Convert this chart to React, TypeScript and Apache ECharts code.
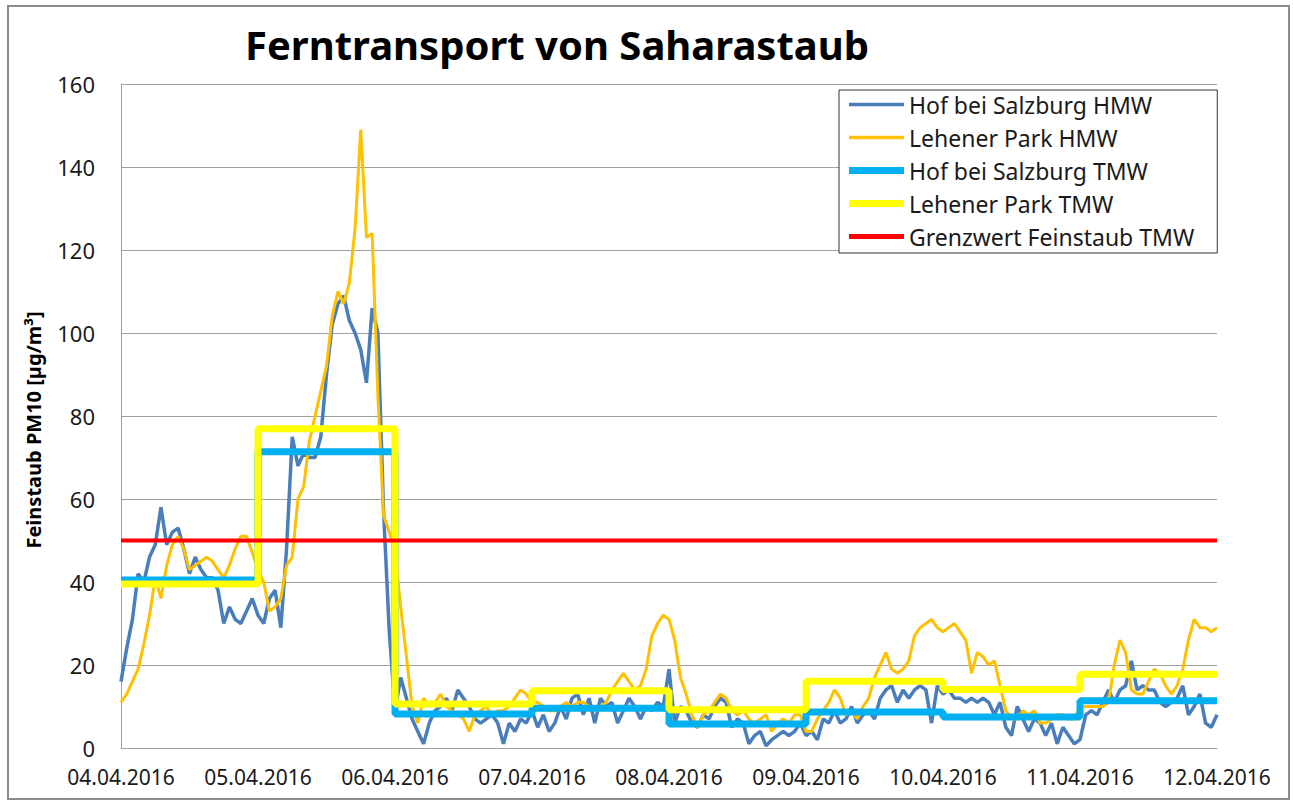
import React, { useEffect, useRef } from "react";
import * as echarts from "echarts";

// x-axis tick labels (one per day)
const dateLabels = [
  "04.04.2016", "05.04.2016", "06.04.2016", "07.04.2016", "08.04.2016",
  "09.04.2016", "10.04.2016", "11.04.2016", "12.04.2016",
];

// Hof bei Salzburg HMW, hourly values (24 per day)
const hofDay1 = [16, 24, 31, 42, 40, 46, 49, 58, 49, 52, 53, 48, 42, 46, 43, 41, 41, 38, 30, 34, 31, 30, 33, 36];
const hofDay2 = [32, 30, 36, 38, 29, 48, 75, 68, 71, 70, 70, 75, 90, 102, 107, 109, 103, 100, 96, 88, 106, 100, 57, 28];
const hofDay3 = [9, 17, 12, 7, 4, 1, 6, 9, 10, 12, 9, 14, 12, 10, 7, 6, 7, 8, 6, 1, 6, 4, 7, 6];
const hofDay4 = [9, 5, 8, 4, 6, 10, 7, 12, 13, 8, 12, 6, 12, 10, 11, 6, 9, 12, 10, 7, 10, 9, 11, 10];
const hofDay5 = [19, 6, 10, 9, 6, 5, 8, 7, 10, 12, 11, 5, 7, 6, 1, 3, 4, 0.5, 2, 3, 4, 3, 4, 6];
const hofDay6 = [3, 4, 2, 7, 6, 9, 6, 7, 10, 6, 8, 9, 7, 12, 14, 15, 11, 14, 12, 14, 15, 14, 6, 15];
const hofDay7 = [13, 14, 12, 12, 11, 12, 11, 12, 11, 8, 11, 5, 3, 10, 7, 4, 7, 6, 3, 6, 1, 5, 3, 1];
const hofDay8 = [2, 8, 9, 8, 11, 14, 11, 14, 15, 21, 14, 15, 14, 14, 11, 10, 11, 12, 15, 8, 10, 13, 6, 5];
const hofLast = [8];

// Lehener Park HMW, hourly values
const lehDay1 = [11, 13, 16, 19, 25, 32, 41, 36, 44, 49, 51, 48, 43, 44, 45, 46, 45, 43, 41, 44, 48, 51, 51, 47];
const lehDay2 = [43, 40, 33, 34, 36, 44, 46, 60, 63, 74, 80, 86, 92, 104, 110, 107, 112, 125, 149, 123, 124, 85, 56, 52];
const lehDay3 = [47, 34, 22, 10, 6, 12, 10, 11, 13, 10, 9, 8, 7, 4, 8, 9, 10, 8, 9, 9, 10, 12, 14, 13];
const lehDay4 = [11, 11, 10, 9, 9, 10, 11, 10, 11, 11, 10, 10, 10, 11, 14, 16, 18, 16, 14, 15, 19, 27, 30, 32];
const lehDay5 = [31, 26, 17, 13, 8, 5, 8, 9, 11, 13, 12, 9, 8, 9, 7, 6, 7, 8, 4, 6, 7, 6, 8, 8];
const lehDay6 = [4, 4, 7, 9, 11, 14, 12, 8, 9, 7, 10, 12, 17, 20, 23, 19, 18, 19, 21, 27, 29, 30, 31, 29];
const lehDay7 = [28, 29, 30, 28, 26, 18, 23, 22, 20, 21, 15, 9, 7, 7, 9, 8, 9, 6, 6, 7, 8, 8, 7, 7];
const lehDay8 = [10, 10, 10, 10, 10, 11, 20, 26, 23, 14, 13, 13, 16, 19, 18, 15, 13, 15, 19, 26, 31, 29, 29, 28];
const lehLast = [29];

// Daily means (TMW)
const hofTMW = [40.5, 71.4, 8.2, 9.6, 5.8, 8.7, 7.5, 11.4];
const lehTMW = [39.5, 76.9, 10.6, 13.8, 9.2, 16.1, 14.1, 17.8];
const grenzwert = 50;

const seriesNames = [
  "Hof bei Salzburg HMW",
  "Lehener Park HMW",
  "Hof bei Salzburg TMW",
  "Lehener Park TMW",
  "Grenzwert Feinstaub TMW",
];

const FONT = "'Noto Sans', 'Open Sans', sans-serif";

// legend line icons (thin / thick bars)
const iconThin = "path://M0,0H55V3.5H0Z";
const iconMid = "path://M0,0H55V5H0Z";
const iconThick = "path://M0,0H55V7H0Z";

export default function App() {
  const ref = useRef<HTMLDivElement>(null);

  useEffect(() => {
    if (!ref.current) return;
    const chart = echarts.init(ref.current, undefined, { renderer: "svg" });

    const hofAll = [...hofDay1, ...hofDay2, ...hofDay3, ...hofDay4, ...hofDay5, ...hofDay6, ...hofDay7, ...hofDay8, ...hofLast];
    const lehAll = [...lehDay1, ...lehDay2, ...lehDay3, ...lehDay4, ...lehDay5, ...lehDay6, ...lehDay7, ...lehDay8, ...lehLast];
    const hofHMW = hofAll.map((v, i) => [i, v]);
    const lehHMW = lehAll.map((v, i) => [i, v]);
    const stepData = (arr: number[]) => arr.flatMap((v, d) => [[d * 24, v], [(d + 1) * 24, v]]);
    const maxHour = (dateLabels.length - 1) * 24;

    const mk = (name: string, data: any, color: string, width: number) => ({
      name,
      type: "line",
      data,
      showSymbol: false,
      symbol: "none",
      lineStyle: { color, width },
      itemStyle: { color },
      z: 2,
    });

    chart.setOption({
      animation: false,
      backgroundColor: "#ffffff",
      grid: { left: 121, right: 76, top: 84, bottom: 55, containLabel: false },
      xAxis: {
        type: "value",
        min: 0,
        max: maxHour,
        interval: 24,
        axisLine: { show: true, lineStyle: { color: "#a0a0a0", width: 1 } },
        axisTick: { show: false },
        splitLine: { show: false },
        axisLabel: {
          formatter: (v: number) => dateLabels[Math.round(v / 24)] ?? "",
          fontFamily: FONT,
          fontSize: 21,
          color: "#1a1a1a",
          margin: 18,
          showMinLabel: true,
          showMaxLabel: true,
          hideOverlap: false,
        },
      },
      yAxis: {
        type: "value",
        min: 0,
        max: 160,
        interval: 20,
        axisLine: { show: true, lineStyle: { color: "#a0a0a0", width: 1 } },
        axisTick: { show: false },
        splitLine: { show: true, lineStyle: { color: "#a0a0a0", width: 1 } },
        axisLabel: { fontFamily: FONT, fontSize: 22, color: "#1a1a1a", margin: 26 },
      },
      legend: {
        orient: "vertical",
        left: 839,
        top: 90,
        padding: [3, 23, 5, 10],
        itemGap: 10,
        itemWidth: 55,
        itemHeight: 14,
        symbolKeepAspect: true,
        backgroundColor: "#ffffff",
        borderColor: "#333333",
        borderWidth: 1,
        textStyle: { fontFamily: FONT, fontSize: 23, color: "#1a1a1a", lineHeight: 23 },
        data: [
          { name: seriesNames[0], icon: iconThin },
          { name: seriesNames[1], icon: iconThin },
          { name: seriesNames[2], icon: iconThick },
          { name: seriesNames[3], icon: iconThick },
          { name: seriesNames[4], icon: iconMid },
        ],
      },
      graphic: [
        {
          type: "rect",
          shape: { x: 8, y: 6, width: 1281, height: 793 },
          style: { fill: "none", stroke: "#8c8c8c", lineWidth: 2 },
          silent: true,
          z: -1,
        },
        {
          type: "text",
          x: 245,
          y: 44,
          style: {
            text: "Ferntransport von Saharastaub",
            font: `bold 40px ${FONT}`,
            fill: "#000000",
            textAlign: "left",
            textVerticalAlign: "middle",
          },
        },
        {
          type: "text",
          x: 33,
          y: 430,
          rotation: Math.PI / 2,
          style: {
            text: "Feinstaub PM10 [µg/m³]",
            font: `bold 20px ${FONT}`,
            fill: "#000000",
            textAlign: "center",
            textVerticalAlign: "middle",
          },
        },
      ],
      series: [
        mk(seriesNames[0], hofHMW, "#4a7ebb", 3.5),
        mk(seriesNames[1], lehHMW, "#ffc000", 3),
        mk(seriesNames[2], stepData(hofTMW), "#00b0f0", 7),
        mk(seriesNames[3], stepData(lehTMW), "#ffff00", 7),
        mk(seriesNames[4], [[0, grenzwert], [maxHour, grenzwert]], "#ff0000", 4),
      ],
    });

    return () => chart.dispose();
  }, []);

  return (
    <div
      ref={ref}
      style={{ position: "fixed", left: 0, top: 0, width: 1293, height: 803, background: "#fff" }}
    />
  );
}
